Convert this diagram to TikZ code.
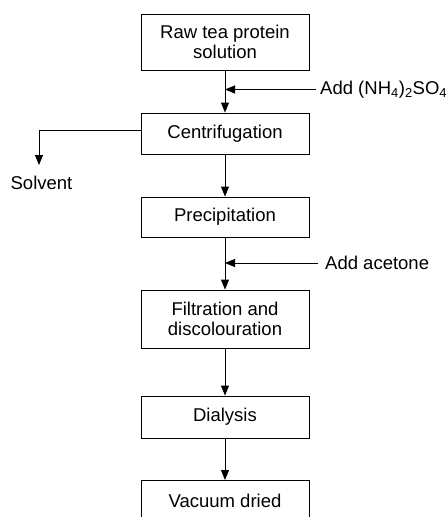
\documentclass[tikz,border=0pt]{standalone}
\usepackage{fontspec}
\setmainfont{Liberation Sans}
\usetikzlibrary{arrows.meta}
\begin{document}
\begin{tikzpicture}[x=1pt,y=-1pt,
  stepbox/.style={draw, line width=0.9pt, minimum width=168pt, inner sep=0pt, align=center, font=\fontsize{18.5}{20.5}\selectfont},
  lbl/.style={inner sep=0pt, font=\fontsize{18.5}{20.5}\selectfont},
  flow/.style={line width=0.9pt, -{Triangle[width=8pt,length=10pt]}}]
\useasboundingbox (0,0) rectangle (447,517);
\clip (0,0) rectangle (447,517);
\node[stepbox, minimum height=56pt] (raw) at (225,42) {Raw tea protein\\solution};
\node[stepbox, minimum height=41pt] (cen) at (225,133.5) {Centrifugation};
\node[stepbox, minimum height=40pt] (pre) at (225,217) {Precipitation};
\node[stepbox, minimum height=58pt] (fil) at (225,319) {Filtration and\\discolouration};
\node[stepbox, minimum height=42pt] (dia) at (225,417) {Dialysis};
\node[stepbox, minimum height=41pt, anchor=north] (vac) at (225,480) {Vacuum dried};
\node[lbl, anchor=west] (nh) at (320,89.5) {Add (NH\textsubscript{4})\textsubscript{2}SO\textsubscript{4}};
\node[lbl, anchor=west] (ace) at (325,263) {Add acetone};
\node[lbl] (sol) at (41.5,183) {Solvent};
\coordinate (j1) at (225,89.5);
\coordinate (j2) at (225,263);
\coordinate (s1) at (39,130.7);
\coordinate (s2) at (39,165);
\draw[flow] (raw.south) -- (cen.north);
\draw[flow] ([xshift=-4pt]nh.west) -- (j1);
\draw[flow] (cen.south) -- (pre.north);
\draw[flow] (pre.south) -- (fil.north);
\draw[flow] ([xshift=-7pt]ace.west) -- (j2);
\draw[flow] (fil.south) -- (dia.north);
\draw[flow] (dia.south) -- (vac.north);
\draw[flow] (cen.west |- s1) -- (s1) -- (s2);
\end{tikzpicture}
\end{document}
